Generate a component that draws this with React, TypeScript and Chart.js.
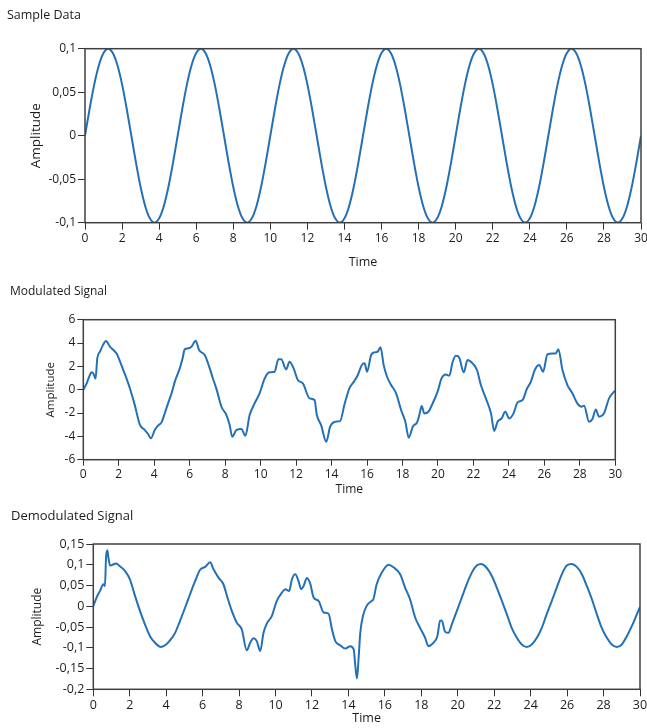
import React, { useEffect, useRef } from 'react';
import { Chart, registerables } from 'chart.js';

Chart.register(...registerables);

const FONT = "'Open Sans', 'Noto Sans', sans-serif";
const LINE_COLOR = '#2470b6';
const TEXT_COLOR = '#1c1c1c';
const FRAME_COLOR = '#404040';

// ---------- data ----------
const sampleStep = 0.25; // time between samples of "Sample Data"
const sampleAmp = [
  0, 0.031, 0.059, 0.081, 0.095, 0.1, 0.095, 0.081, 0.059, 0.031, 0, -0.031, -0.059, -0.081, -0.095, -0.1, -0.095, -0.081, -0.059, -0.031,
  0, 0.031, 0.059, 0.081, 0.095, 0.1, 0.095, 0.081, 0.059, 0.031, 0, -0.031, -0.059, -0.081, -0.095, -0.1, -0.095, -0.081, -0.059, -0.031,
  0, 0.031, 0.059, 0.081, 0.095, 0.1, 0.095, 0.081, 0.059, 0.031, 0, -0.031, -0.059, -0.081, -0.095, -0.1, -0.095, -0.081, -0.059, -0.031,
  0, 0.031, 0.059, 0.081, 0.095, 0.1, 0.095, 0.081, 0.059, 0.031, 0, -0.031, -0.059, -0.081, -0.095, -0.1, -0.095, -0.081, -0.059, -0.031,
  0, 0.031, 0.059, 0.081, 0.095, 0.1, 0.095, 0.081, 0.059, 0.031, 0, -0.031, -0.059, -0.081, -0.095, -0.1, -0.095, -0.081, -0.059, -0.031,
  0, 0.031, 0.059, 0.081, 0.095, 0.1, 0.095, 0.081, 0.059, 0.031, 0, -0.031, -0.059, -0.081, -0.095, -0.1, -0.095, -0.081, -0.059, -0.031,
  0,
];

const modTime = [
  0, 0.19, 0.33, 0.47, 0.58, 0.69, 0.79, 0.94, 1.1, 1.28, 1.5, 1.7, 1.88, 2.05, 2.25, 2.45, 2.63, 2.9, 3.19, 3.47,
  3.65, 3.81, 4.03, 4.2, 4.41, 4.6, 4.78, 5.0, 5.16, 5.44, 5.6, 5.72, 5.9, 6.1, 6.34, 6.53, 6.85, 7.13, 7.3, 7.5,
  7.79, 8.07, 8.25, 8.4, 8.63, 8.91, 9.14, 9.38, 9.66, 9.94, 10.23, 10.5, 10.79, 11.0, 11.16, 11.44, 11.63, 11.86, 12.1, 12.38,
  12.76, 13.04, 13.17, 13.41, 13.7, 13.92, 14.22, 14.48, 14.73, 15.0, 15.26, 15.48, 15.7, 15.86, 16.0, 16.23, 16.42, 16.6, 16.76, 16.94,
  17.13, 17.36, 17.64, 17.92, 18.16, 18.35, 18.58, 18.82, 18.95, 19.08, 19.23, 19.46, 19.7, 19.98, 20.2, 20.45, 20.64, 20.83, 21.01, 21.2,
  21.45, 21.67, 21.95, 22.2, 22.42, 22.7, 22.99, 23.17, 23.36, 23.59, 23.79, 24.02, 24.26, 24.49, 24.77, 25.01, 25.24, 25.46, 25.71, 25.93,
  26.17, 26.46, 26.64, 26.79, 27.02, 27.3, 27.58, 27.86, 28.09, 28.24, 28.52, 28.71, 28.9, 29.08, 29.36, 29.65, 29.93, 30.0,
];
const modAmp = [
  0, 0.54, 1.1, 1.49, 1.35, 0.95, 2.7, 3.26, 3.8, 4.17, 3.7, 3.4, 3.1, 2.5, 1.7, 0.9, 0.1, -1.3, -3.0, -3.46,
  -3.8, -4.17, -3.46, -3.1, -2.8, -2.0, -1.17, -0.2, 0.69, 1.83, 2.7, 3.46, 3.54, 3.69, 4.2, 3.4, 2.97, 1.83, 1.0, 0.11,
  -1.46, -2.17, -3.0, -4.03, -3.46, -3.37, -3.94, -2.17, -1.17, -0.31, 0.97, 1.49, 1.54, 2.6, 2.6, 1.74, 2.4, 1.83, 0.83, 0.54,
  -0.74, -0.89, -2.17, -3.03, -4.46, -3.17, -2.74, -2.69, -1.25, 0.1, 0.69, 1.26, 2.1, 2.26, 1.54, 2.97, 3.2, 3.26, 3.63, 2.1,
  1.11, 0.4, -0.31, -1.74, -2.74, -4.11, -3.17, -2.8, -2.17, -1.4, -2.03, -1.89, -1.17, -0.17, 0.97, 1.31, 1.2, 2.4, 2.91, 2.74,
  1.49, 2.54, 2.26, 1.69, 0.4, -0.74, -2.03, -3.54, -2.74, -2.46, -1.89, -2.46, -2.03, -1.09, -0.89, 0.06, 0.69, 1.69, 2.11, 1.54,
  3.03, 3.11, 3.11, 3.46, 1.69, 0.4, -0.31, -1.17, -1.46, -1.37, -2.74, -2.51, -1.69, -2.31, -2.03, -0.74, -0.17, -0.1,
];

const demodTime = [
  0, 0.18, 0.37, 0.55, 0.64, 0.7, 0.77, 0.84, 0.92, 1.06, 1.25, 1.47, 1.74, 2.01, 2.29, 2.56, 2.84, 3.11, 3.39, 3.7,
  3.94, 4.21, 4.49, 4.76, 5.04, 5.31, 5.59, 5.86, 6.14, 6.41, 6.59, 6.87, 7.14, 7.36, 7.6, 7.88, 8.15, 8.42, 8.61, 8.79,
  8.97, 9.16, 9.34, 9.52, 9.8, 10.07, 10.35, 10.53, 10.75, 10.9, 11.08, 11.26, 11.41, 11.54, 11.72, 11.9, 12.09, 12.36, 12.64, 12.91,
  13.1, 13.28, 13.55, 13.83, 14.1, 14.29, 14.38, 14.47, 14.56, 14.65, 14.8, 15.0, 15.28, 15.37, 15.55, 15.83, 16.2, 16.47, 16.84, 17.11,
  17.38, 17.66, 17.93, 18.21, 18.39, 18.66, 18.88, 19.03, 19.12, 19.3, 19.49, 19.67, 19.95, 20.22, 20.49, 20.77, 21.04, 21.28, 21.56, 21.87,
  22.14, 22.42, 22.69, 22.96, 23.24, 23.51, 23.79, 24.06, 24.34, 24.61, 24.88, 25.16, 25.43, 25.71, 25.98, 26.26, 26.53, 26.81, 27.08, 27.36,
  27.63, 27.9, 28.18, 28.45, 28.73, 29.0, 29.28, 29.55, 29.83, 30.0,
];
const demodAmp = [
  0, 0.021, 0.037, 0.053, 0.049, 0.118, 0.135, 0.114, 0.098, 0.1, 0.103, 0.096, 0.085, 0.065, 0.025, -0.011, -0.044, -0.072, -0.088, -0.098,
  -0.094, -0.082, -0.064, -0.035, -0.003, 0.029, 0.061, 0.088, 0.095, 0.106, 0.09, 0.069, 0.053, 0.021, -0.011, -0.04, -0.056, -0.106, -0.088, -0.077,
  -0.084, -0.108, -0.064, -0.042, -0.023, 0.013, 0.033, 0.041, 0.037, 0.065, 0.077, 0.061, 0.041, 0.049, 0.068, 0.055, 0.021, 0.013, -0.015, -0.018,
  -0.056, -0.084, -0.094, -0.102, -0.096, -0.104, -0.144, -0.174, -0.124, -0.064, -0.023, 0.001, 0.013, 0.017, 0.053, 0.081, 0.1, 0.094, 0.077, 0.045,
  0.017, -0.027, -0.052, -0.076, -0.096, -0.088, -0.072, -0.035, -0.034, -0.061, -0.064, -0.044, -0.011, 0.021, 0.053, 0.081, 0.098, 0.102, 0.094, 0.073,
  0.045, 0.013, -0.019, -0.052, -0.076, -0.092, -0.098, -0.092, -0.076, -0.052, -0.019, 0.013, 0.045, 0.077, 0.098, 0.102, 0.095, 0.077, 0.049, 0.017,
  -0.019, -0.052, -0.076, -0.092, -0.098, -0.092, -0.072, -0.048, -0.019, -0.002,
];

const timeTicks = [0, 2, 4, 6, 8, 10, 12, 14, 16, 18, 20, 22, 24, 26, 28, 30];
const sampleTicks = [-0.1, -0.05, 0, 0.05, 0.1];
const modTicks = [-6, -4, -2, 0, 2, 4, 6];
const demodTicks = [-0.2, -0.15, -0.1, -0.05, 0, 0.05, 0.1, 0.15];

// ---------- helpers ----------
function fmt(v: number): string {
  const r = Math.round(v * 1000) / 1000;
  return String(r).replace('.', ',');
}

const framePlugin = {
  id: 'frame',
  afterDatasetsDraw(chart: any) {
    const { ctx, chartArea } = chart;
    ctx.save();
    ctx.strokeStyle = FRAME_COLOR;
    ctx.lineWidth = 1.5;
    ctx.strokeRect(chartArea.left, chartArea.top, chartArea.right - chartArea.left, chartArea.bottom - chartArea.top);
    ctx.restore();
  },
};

interface Panel {
  top: number;
  height: number;
  title: string;
  titleSize: number;
  titlePadTop: number;
  titlePadBottom: number;
  padLeft: number;
  padRight: number;
  yWidth: number;
  xHeight: number;
  tickSize: number;
  tickLen: number;
  yTitleSize: number;
  xTitleSize: number;
  yTitlePad: number;
  xTitlePad: number;
  xs: number[];
  ys: number[];
  yTicks: number[];
}

const panels: Panel[] = [
  {
    top: 0, height: 275, title: 'Sample Data', titleSize: 12.5, titlePadTop: 7.5, titlePadBottom: 26.2,
    padLeft: 7, padRight: 6, yWidth: 78, xHeight: 52.3, tickSize: 12, tickLen: 7, yTitleSize: 13.5, xTitleSize: 12.5,
    yTitlePad: 21, xTitlePad: 5.5,
    xs: sampleAmp.map((_, i) => i * sampleStep), ys: sampleAmp, yTicks: sampleTicks,
  },
  {
    top: 275, height: 225, title: 'Modulated Signal', titleSize: 12, titlePadTop: 9.8, titlePadBottom: 20.5,
    padLeft: 10, padRight: 31.7, yWidth: 73.3, xHeight: 40.3, tickSize: 12, tickLen: 6, yTitleSize: 11.5, xTitleSize: 12,
    yTitlePad: 34, xTitlePad: 3,
    xs: modTime, ys: modAmp, yTicks: modTicks,
  },
  {
    top: 500, height: 228, title: 'Demodulated Signal', titleSize: 13, titlePadTop: 8.2, titlePadBottom: 20.2,
    padLeft: 11, padRight: 7, yWidth: 82.3, xHeight: 38.7, tickSize: 12.5, tickLen: 7, yTitleSize: 12, xTitleSize: 12.5,
    yTitlePad: 19.8, xTitlePad: 2.5,
    xs: demodTime, ys: demodAmp, yTicks: demodTicks,
  },
];

function PanelChart({ p }: { p: Panel }) {
  const ref = useRef<HTMLCanvasElement | null>(null);
  useEffect(() => {
    if (!ref.current) return;
    const yMin = p.yTicks[0];
    const yMax = p.yTicks[p.yTicks.length - 1];
    const chart = new Chart(ref.current, {
      type: 'line',
      data: {
        datasets: [
          {
            data: p.xs.map((x, i) => ({ x, y: p.ys[i] })),
            borderColor: LINE_COLOR,
            borderWidth: 2,
            pointRadius: 0,
            cubicInterpolationMode: 'monotone',
            fill: false,
          },
        ],
      },
      options: {
        responsive: false,
        animation: false,
        devicePixelRatio: 1,
        layout: { padding: { left: p.padLeft, right: p.padRight, top: 0, bottom: 0 } },
        plugins: {
          legend: { display: false },
          tooltip: { enabled: false },
          title: {
            display: true,
            text: p.title,
            align: 'start',
            color: TEXT_COLOR,
            font: { family: FONT, size: p.titleSize, weight: 'normal', lineHeight: 1.2 },
            padding: { top: p.titlePadTop, bottom: p.titlePadBottom },
          },
        },
        scales: {
          x: {
            type: 'linear',
            min: 0,
            max: 30,
            border: { display: false },
            grid: { drawOnChartArea: false, drawTicks: true, tickLength: p.tickLen, color: '#333', lineWidth: 1 },
            ticks: {
              color: TEXT_COLOR,
              font: { family: FONT, size: p.tickSize },
              padding: 2,
              maxRotation: 0,
              autoSkip: false,
              callback: (v: any) => fmt(Number(v)),
            },
            afterBuildTicks: (axis: any) => {
              axis.ticks = timeTicks.map((v) => ({ value: v }));
            },
            afterFit: (axis: any) => {
              axis.height = p.xHeight;
              axis.paddingLeft = 0;
              axis.paddingRight = 0;
            },
            title: {
              display: true,
              text: 'Time',
              color: TEXT_COLOR,
              font: { family: FONT, size: p.xTitleSize, lineHeight: 1.2 },
              padding: { top: 0, bottom: p.xTitlePad },
            },
          },
          y: {
            type: 'linear',
            min: yMin,
            max: yMax,
            border: { display: false },
            grid: { drawOnChartArea: false, drawTicks: true, tickLength: p.tickLen, color: '#333', lineWidth: 1 },
            ticks: {
              color: TEXT_COLOR,
              font: { family: FONT, size: p.tickSize },
              padding: 2,
              autoSkip: false,
              callback: (v: any) => fmt(Number(v)),
            },
            afterBuildTicks: (axis: any) => {
              axis.ticks = p.yTicks.map((v) => ({ value: v }));
            },
            afterFit: (axis: any) => {
              axis.width = p.yWidth;
              axis.paddingTop = 0;
              axis.paddingBottom = 0;
            },
            title: {
              display: true,
              text: 'Amplitude',
              color: TEXT_COLOR,
              font: { family: FONT, size: p.yTitleSize, lineHeight: 1.2 },
              padding: { top: p.yTitlePad, bottom: 0 },
            },
          },
        },
      },
      plugins: [framePlugin],
    } as any);
    return () => chart.destroy();
  }, [p]);
  return (
    <canvas
      ref={ref}
      width={647}
      height={p.height}
      style={{ position: 'absolute', left: 0, top: p.top, width: 647, height: p.height }}
    />
  );
}

export default function App() {
  return (
    <div style={{ position: 'absolute', left: 0, top: 0, width: 647, height: 728, background: '#fff' }}>
      {panels.map((p, i) => (
        <PanelChart key={i} p={p} />
      ))}
    </div>
  );
}
